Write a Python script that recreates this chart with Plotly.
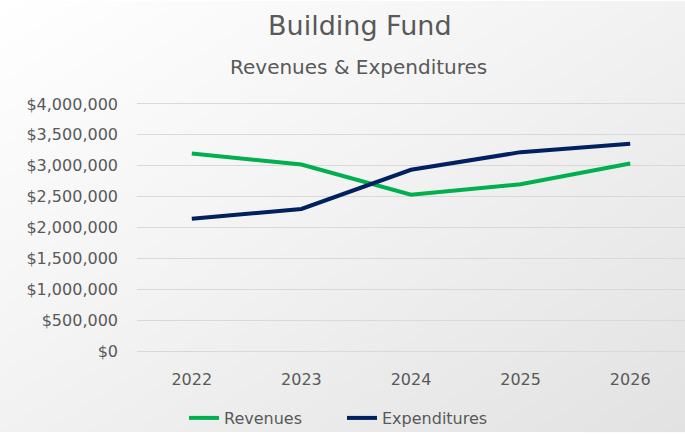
import plotly.graph_objects as go
import urllib.parse

years = ["2022", "2023", "2024", "2025", "2026"]
revenues = [3200000, 3020000, 2530000, 2700000, 3035000]
expenditures = [2140000, 2300000, 2935000, 3220000, 3355000]
y_ticks = [0, 500000, 1000000, 1500000, 2000000, 2500000, 3000000, 3500000, 4000000]
y_tick_labels = ["$0", "$500,000", "$1,000,000", "$1,500,000", "$2,000,000",
                 "$2,500,000", "$3,000,000", "$3,500,000", "$4,000,000"]

W, H = 685, 435
ML, MR, MT, MB = 137, 0, 102, 80
PW, PH = W - ML - MR, H - MT - MB
FONT = "Century Gothic, URW Gothic, DejaVu Sans, sans-serif"
TXT = "#595959"

svg = ("<svg xmlns='http://www.w3.org/2000/svg' width='685' height='435' preserveAspectRatio='none'>"
       "<defs><linearGradient id='g' x1='0' y1='0' x2='1' y2='1'>"
       "<stop offset='0' stop-color='#ffffff'/><stop offset='0.45' stop-color='#f3f3f3'/>"
       "<stop offset='1' stop-color='#e2e2e2'/></linearGradient></defs>"
       "<rect width='685' height='435' fill='url(#g)'/></svg>")
bg_src = "data:image/svg+xml;charset=utf-8," + urllib.parse.quote(svg)

fig = go.Figure()
fig.add_trace(go.Scatter(x=years, y=revenues, mode="lines", name="Revenues",
                         line=dict(color="#00b050", width=4)))
fig.add_trace(go.Scatter(x=years, y=expenditures, mode="lines", name="Expenditures",
                         line=dict(color="#002060", width=4)))

fig.update_layout(
    width=W, height=H,
    margin=dict(l=ML, r=MR, t=MT, b=MB),
    paper_bgcolor="rgba(0,0,0,0)", plot_bgcolor="rgba(0,0,0,0)",
    font=dict(family=FONT, color=TXT, size=16),
    showlegend=True,
    legend=dict(orientation="h", x=(342 - ML) / PW, xanchor="center",
                y=-(421 - MT - PH) / PH, yanchor="middle", entrywidth=113,
                font=dict(size=16, color=TXT), bgcolor="rgba(0,0,0,0)"),
    images=[dict(source=bg_src, xref="paper", yref="paper",
                 x=-ML / PW, y=1 + MT / PH, sizex=W / PW, sizey=H / PH,
                 xanchor="left", yanchor="top", sizing="stretch", layer="below")],
    annotations=[
        dict(text="Building Fund", xref="paper", yref="paper",
             x=(360 - ML) / PW, y=1 + (MT - 25) / PH, xanchor="center", yanchor="middle",
             showarrow=False, font=dict(size=27, color=TXT, family=FONT)),
        dict(text="Revenues &amp; Expenditures", xref="paper", yref="paper",
             x=(358 - ML) / PW, y=1 + (MT - 67) / PH, xanchor="center", yanchor="middle",
             showarrow=False, font=dict(size=20, color=TXT, family=FONT)),
    ],
    xaxis=dict(range=[-0.5, 4.5], showgrid=False, zeroline=False, showline=False, ticks="",
               ticklabelstandoff=15, tickfont=dict(size=16, color=TXT)),
    yaxis=dict(range=[-32000, 4032000], tickvals=y_ticks, ticktext=y_tick_labels,
               showgrid=True, gridcolor="#d9d9d9", gridwidth=1, zeroline=False,
               showline=False, ticks="", ticklabelstandoff=18,
               tickfont=dict(size=16, color=TXT)),
)

fig.write_html("out.html", config={"displayModeBar": False},
               post_script="document.body.style.margin='0';document.body.style.overflow='hidden';")
